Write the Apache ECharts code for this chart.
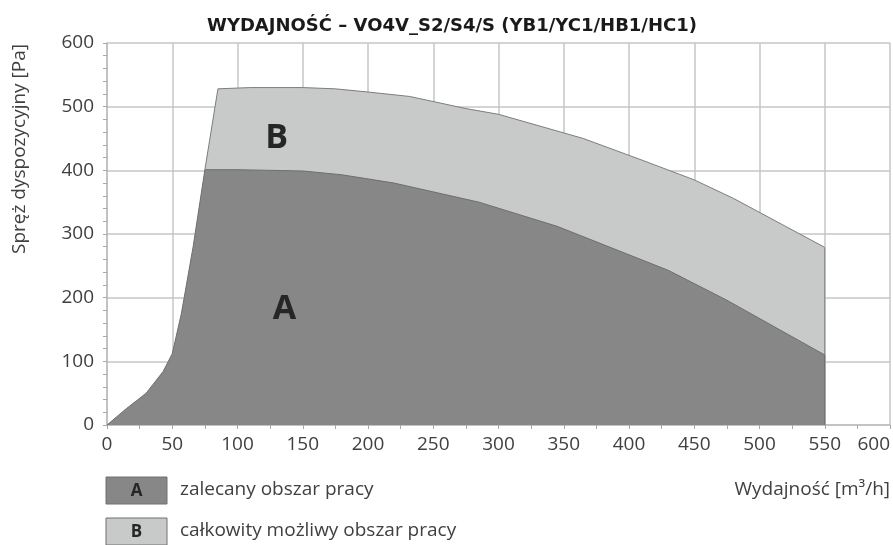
<!DOCTYPE html>
<html>
<head>
<meta charset="utf-8">
<script src="https://cdn.jsdelivr.net/npm/echarts@6/dist/echarts.min.js"></script>
<style>
html,body{margin:0;padding:0;background:#fff;}
#chart{width:893px;height:545px;}
</style>
</head>
<body>
<div id="chart"></div>
<script>
// Area A: recommended operating range
const flowA = [0, 15, 30, 43, 50, 57, 66, 75, 100, 150, 180, 220, 285, 345, 430, 475, 550, 550];
const pressA = [0, 26, 50, 84, 112, 175, 280, 401, 401, 399, 393, 380, 350, 312, 243, 196, 110, 0];
// Area B: total possible operating range
const flowB = [75, 85, 110, 150, 175, 200, 232, 275, 300, 365, 410, 450, 480, 520, 550, 550];
const pressB = [401, 528, 530, 530, 528, 523, 516, 497, 488, 450, 416, 385, 356, 312, 279, 0];
const xTicks = [0, 50, 100, 150, 200, 250, 300, 350, 400, 450, 500, 550, 600];
const yTicks = [0, 100, 200, 300, 400, 500, 600];
const labelA = {text: 'A', x: 136, y: 181};
const labelB = {text: 'B', x: 130, y: 451};

const titleText = 'WYDAJNOŚĆ – VO4V_S2/S4/S (YB1/YC1/HB1/HC1)';
const yName = 'Spręż dyspozycyjny [Pa]';
const xName = 'Wydajność [m³/h]';
const legendItems = [
  {key: 'A', text: 'zalecany obszar pracy', color: '#878787'},
  {key: 'B', text: 'całkowity możliwy obszar pracy', color: '#c8c9c9'}
];

const FONT = '"Open Sans", "DejaVu Sans", sans-serif';
const TXT = '#404040';
const GRIDC = '#c6c6c6';

const chart = echarts.init(document.getElementById('chart'), null, {renderer: 'canvas'});

function pairs(xs, ys) { return xs.map((x, i) => [x, ys[i]]); }

const axisCommon = {
  type: 'value',
  min: 0,
  max: 600,
  axisLine: {show: true, lineStyle: {color: '#bdbdbd', width: 1.5}},
  axisTick: {show: true, length: 4, lineStyle: {color: '#a8a8a8'}},
  splitLine: {show: true, lineStyle: {color: GRIDC, width: 1.5}},
  axisLabel: {color: TXT, fontSize: 19, fontFamily: FONT}
};

const legendGraphics = [];
legendItems.forEach((it, i) => {
  const top = 477 + i * 41;
  legendGraphics.push({
    type: 'rect', shape: {x: 106, y: top, width: 61, height: 27},
    style: {fill: it.color, stroke: '#707070', lineWidth: 1}
  });
  legendGraphics.push({
    type: 'text', style: {text: it.key, x: 136.5, y: top + 14, textAlign: 'center', textVerticalAlign: 'middle',
      font: 'bold 17px ' + FONT, fill: '#262626'}
  });
  legendGraphics.push({
    type: 'text', style: {text: it.text, x: 180, y: top + 13, textAlign: 'left', textVerticalAlign: 'middle',
      font: '19px ' + FONT, fill: TXT}
  });
});

const option = {
  animation: false,
  backgroundColor: '#ffffff',
  grid: {left: 107, top: 43, width: 783, height: 382, containLabel: false, outerBoundsMode: 'none'},
  xAxis: Object.assign({}, axisCommon, {
    max: xTicks[xTicks.length - 1],
    interval: xTicks[1] - xTicks[0],
    minorTick: {show: true, splitNumber: 2, length: 4, lineStyle: {color: '#a8a8a8'}},
    axisLabel: Object.assign({}, axisCommon.axisLabel, {margin: 10, alignMaxLabel: 'right'})
  }),
  yAxis: Object.assign({}, axisCommon, {
    max: yTicks[yTicks.length - 1],
    interval: yTicks[1] - yTicks[0],
    minorTick: {show: true, splitNumber: 5, length: 4, lineStyle: {color: '#a8a8a8'}},
    axisLabel: Object.assign({}, axisCommon.axisLabel, {margin: 13})
  }),
  series: [
    {
      name: 'B', type: 'line', data: pairs(flowB, pressB), symbol: 'none',
      lineStyle: {color: '#7d7d7d', width: 1},
      areaStyle: {color: '#c8c9c9', opacity: 1},
      markPoint: {
        symbol: 'circle', symbolSize: 0,
        label: {show: true, formatter: labelB.text, color: '#262626', fontSize: 34, fontWeight: 'bold', fontFamily: FONT},
        data: [{coord: [labelB.x, labelB.y]}]
      }
    },
    {
      name: 'A', type: 'line', data: pairs(flowA, pressA), symbol: 'none',
      lineStyle: {color: '#6e6e6e', width: 1},
      areaStyle: {color: '#878787', opacity: 1},
      markPoint: {
        symbol: 'circle', symbolSize: 0,
        label: {show: true, formatter: labelA.text, color: '#262626', fontSize: 34, fontWeight: 'bold', fontFamily: FONT},
        data: [{coord: [labelA.x, labelA.y]}]
      }
    }
  ],
  graphic: [
    {type: 'text', style: {text: titleText, x: 452, y: 26, textAlign: 'center', textVerticalAlign: 'middle',
      font: 'bold 18px "DejaVu Sans", sans-serif', fill: '#1a1a1a'}},
    {type: 'text', x: 20, y: 149, rotation: Math.PI / 2,
      style: {text: yName, x: 0, y: 0, textAlign: 'center', textVerticalAlign: 'middle', font: '19px ' + FONT, fill: TXT}},
    {type: 'text', style: {text: xName, x: 890, y: 490, textAlign: 'right', textVerticalAlign: 'middle',
      font: '19px ' + FONT, fill: TXT}}
  ].concat(legendGraphics)
};

chart.setOption(option);
</script>
</body>
</html>
